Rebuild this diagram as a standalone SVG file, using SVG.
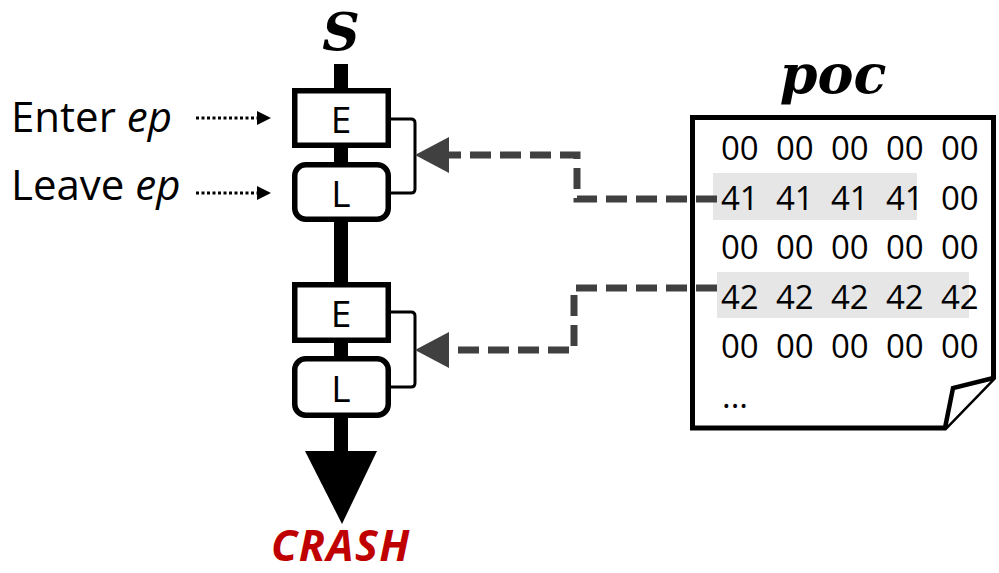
<svg xmlns="http://www.w3.org/2000/svg" width="999" height="573" viewBox="0 0 999 573">
  <defs>
    <style>
      .lbl { font-family: "Open Sans", "Noto Sans", sans-serif; font-size: 42px; fill: #000; }
      .box { fill: #fff; stroke: #000; stroke-width: 5.5; }
      .boxtxt { font-family: "Open Sans", "Noto Sans", sans-serif; font-size: 37px; fill: #000; text-anchor: middle; }
      .hex { font-family: "Open Sans", "Noto Sans", sans-serif; font-size: 33px; fill: #000; }
      .math { font-family: "DejaVu Serif", "Liberation Serif", serif; font-weight: bold; font-style: italic; fill: #000; text-anchor: middle; }
      .dotted { stroke: #000; stroke-width: 3; stroke-dasharray: 3 2.5; fill: none; }
      .dashed { stroke: #404040; stroke-width: 7; stroke-dasharray: 21 9; fill: none; }
      .bracket { stroke: #000; stroke-width: 3; fill: none; }
      .hl { fill: #e6e6e6; }
    </style>
    <marker id="feed" markerUnits="userSpaceOnUse" viewBox="0 0 34 36" markerWidth="34" markerHeight="36" refX="0" refY="18" orient="auto">
      <polygon points="0,0 34,18 0,36" fill="#404040"/>
    </marker>
  </defs>

  <!-- execution trace spine -->
  <g id="spine">
    <text class="math" x="341" y="50" font-size="52">S</text>
    <rect x="334" y="64" width="14" height="390" fill="#000"/>
    <polygon points="305,451 377,451 342,524" fill="#000"/>
    <text x="341" y="561" text-anchor="middle" font-family="Open Sans, Noto Sans, sans-serif" font-size="43" font-weight="bold" font-style="italic" letter-spacing="1.5" fill="#c00000">CRASH</text>
  </g>

  <g id="enter1">
    <rect class="box" x="294.75" y="90.75" width="93.5" height="54.5"/>
    <text class="boxtxt" x="341" y="133">E</text>
  </g>
  <g id="leave1">
    <rect class="box" x="294.75" y="164.75" width="93.5" height="54.5" rx="11"/>
    <text class="boxtxt" x="341" y="207">L</text>
  </g>
  <g id="enter2">
    <rect class="box" x="294.75" y="284.75" width="93.5" height="55.5"/>
    <text class="boxtxt" x="341" y="327">E</text>
  </g>
  <g id="leave2">
    <rect class="box" x="294.75" y="358.75" width="93.5" height="56.5" rx="11"/>
    <text class="boxtxt" x="341" y="402">L</text>
  </g>

  <g id="label-enter">
    <text class="lbl" x="11" y="132">Enter <tspan font-style="italic">ep</tspan></text>
  </g>
  <g id="label-leave">
    <text class="lbl" x="11" y="200">Leave <tspan font-style="italic">ep</tspan></text>
  </g>

  <!-- proof-of-concept input file -->
  <g id="poc">
    <text class="math" x="833" y="93" font-size="54">poc</text>
    <path d="M692.5,117.5 H993.5 V378 L945,428 H692.5 Z" fill="#fff" stroke="#000" stroke-width="5" stroke-linejoin="miter"/>
    <path d="M993.5,378 L953,388 L945,428" fill="#fff" stroke="#000" stroke-width="4.5" stroke-linejoin="miter"/>
    <rect class="hl" x="713" y="173" width="204" height="47"/>
    <rect class="hl" x="717" y="272" width="252" height="46"/>
    <g class="hex">
      <text y="160"><tspan x="721">00</tspan><tspan x="776">00</tspan><tspan x="831">00</tspan><tspan x="886">00</tspan><tspan x="941">00</tspan></text>
      <text y="210"><tspan x="721">41</tspan><tspan x="776">41</tspan><tspan x="831">41</tspan><tspan x="886">41</tspan><tspan x="941">00</tspan></text>
      <text y="259"><tspan x="721">00</tspan><tspan x="776">00</tspan><tspan x="831">00</tspan><tspan x="886">00</tspan><tspan x="941">00</tspan></text>
      <text y="309"><tspan x="721">42</tspan><tspan x="776">42</tspan><tspan x="831">42</tspan><tspan x="886">42</tspan><tspan x="941">42</tspan></text>
      <text y="358"><tspan x="721">00</tspan><tspan x="776">00</tspan><tspan x="831">00</tspan><tspan x="886">00</tspan><tspan x="941">00</tspan></text>
      <text x="722" y="408">...</text>
    </g>
  </g>

  <g id="connectors">
    <line class="dotted" x1="196" y1="118" x2="258" y2="118"/>
    <polygon points="257,111 271,118 257,125" fill="#000"/>
    <line class="dotted" x1="196" y1="193" x2="258" y2="193"/>
    <polygon points="257,186 271,193 257,200" fill="#000"/>
    <path class="bracket" d="M391,119 H411 Q415,119 415,123 V189 Q415,193 411,193 H391"/>
    <path class="bracket" d="M391,312 H411 Q415,312 415,316 V383 Q415,387 411,387 H391"/>
    <path class="dashed" d="M717,199 H577 V155 H449" marker-end="url(#feed)"/>
    <path class="dashed" d="M717,288 H574 V350 H449" marker-end="url(#feed)"/>
  </g>
</svg>
